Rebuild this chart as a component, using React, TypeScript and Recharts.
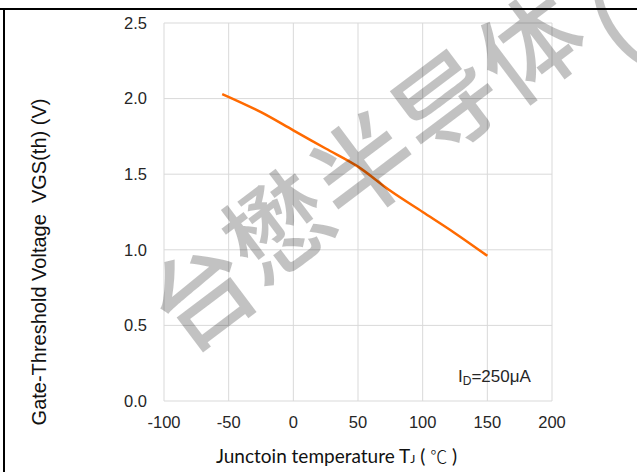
import { LineChart, Line, XAxis, YAxis, CartesianGrid } from "recharts";

// junction temperature (°C) and threshold voltage (V)
const temps = [-55, -25, 0, 25, 50, 75, 100, 125, 150];
const vgsTh = [2.03, 1.91, 1.79, 1.67, 1.55, 1.39, 1.25, 1.11, 0.96];

const xTicks = [-100, -50, 0, 50, 100, 150, 200];
const yTicks = [0, 0.5, 1.0, 1.5, 2.0, 2.5];

const watermarkChars = ["台", "懋", "半", "导", "体"];
const watermarkCenters = [
  [198, 290],
  [274, 222],
  [360, 162],
  [443, 99],
  [527, 42],
];

const chartData = temps.map((t, i) => ({ t, v: vgsTh[i] }));

const tickStyle = { fontSize: 16.5, fill: "#262626", fontFamily: "'Liberation Sans', Arial, sans-serif" };

export default function App() {
  return (
    <div style={{ position: "absolute", left: 0, top: 0, width: 637, height: 472, background: "#fff", overflow: "hidden" }}>
      <LineChart
        width={637}
        height={472}
        data={chartData}
        margin={{ top: 23, right: 85, bottom: 0, left: 0 }}
      >
        <CartesianGrid stroke="#d9d9d9" strokeWidth={1} />
        <XAxis
          dataKey="t"
          type="number"
          domain={[-100, 200]}
          ticks={xTicks}
          axisLine={false}
          tickLine={false}
          tickSize={0}
          tickMargin={15}
          tick={tickStyle}
          height={71}
        />
        <YAxis
          type="number"
          domain={[0, 2.5]}
          ticks={yTicks}
          axisLine={false}
          tickLine={false}
          tickSize={0}
          tickMargin={17}
          width={164}
          tick={tickStyle}
          tickFormatter={(v: number) => v.toFixed(1)}
        />
        <Line
          type="monotone"
          dataKey="v"
          stroke="#ff6a00"
          strokeWidth={2.5}
          dot={false}
          isAnimationActive={false}
        />
      </LineChart>

      <svg
        width={637}
        height={472}
        style={{ position: "absolute", left: 0, top: 0, pointerEvents: "none" }}
      >
        {/* axis titles */}
        <text
          x={0}
          y={0}
          transform="translate(46, 262) rotate(-90)"
          textAnchor="middle"
          fontSize={20}
          fill="#111"
          fontFamily="'Liberation Sans', Arial, sans-serif"
          style={{ whiteSpace: "pre" }}
        >
          {"Gate-Threshold Voltage  VGS(th) (V)"}
        </text>
        <text x={216} y={463} fontSize={19} fill="#111" fontFamily="Lato, 'Open Sans', sans-serif" style={{ whiteSpace: "pre" }}>
          {"Junctoin temperature T"}
          <tspan fontSize={12}>J</tspan>
          <tspan>{" ( "}</tspan>
          <tspan fontFamily="'Noto Sans CJK SC'" fontWeight={300} fontSize={17}>℃</tspan>
          <tspan>{" )"}</tspan>
        </text>

        {/* test condition */}
        <text x={458} y={382} fontSize={17} fill="#262626" fontFamily="'Liberation Sans', Arial, sans-serif">
          I<tspan fontSize={12} dy={3}>D</tspan>
          <tspan dy={-3}>=250μA</tspan>
        </text>

        {/* watermark */}
        {watermarkChars.map((c, i) => (
          <text
            key={c}
            x={watermarkCenters[i][0]}
            y={watermarkCenters[i][1]}
            transform={`rotate(-37, ${watermarkCenters[i][0]}, ${watermarkCenters[i][1]})`}
            textAnchor="middle"
            dominantBaseline="central"
            fontSize={102}
            fontWeight={500}
            fontFamily="'Noto Sans CJK SC'"
            fill="#000"
            fillOpacity={0.24}
          >
            {c}
          </text>
        ))}
        <text
          x={612}
          y={24}
          transform="rotate(-37, 612, 24)"
          textAnchor="middle"
          dominantBaseline="central"
          fontSize={102}
          fontWeight={500}
          fontFamily="'Noto Sans CJK SC'"
          fill="#000"
          fillOpacity={0.24}
        >
          (
        </text>
      </svg>

      {/* page frame */}
      <div style={{ position: "absolute", left: 0, top: 8, width: 637, height: 2, background: "#000" }} />
      <div style={{ position: "absolute", left: 3, top: 8, width: 1.5, height: 464, background: "#000" }} />
    </div>
  );
}
